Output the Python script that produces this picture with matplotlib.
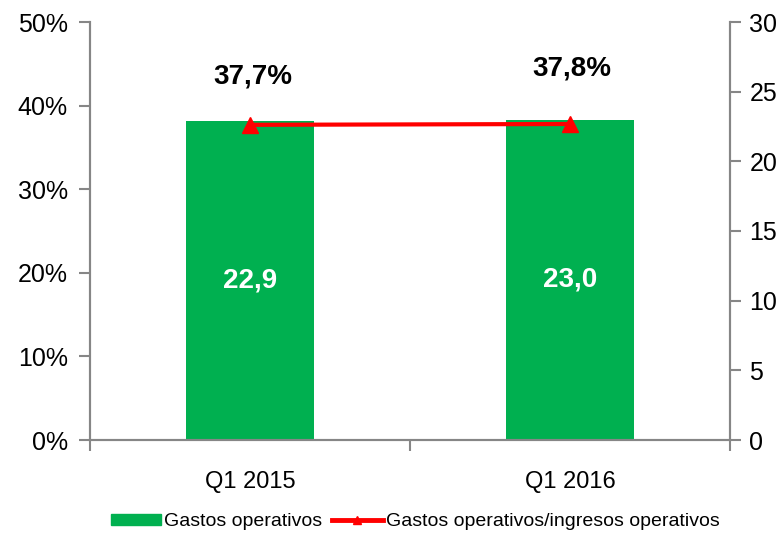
import numpy as np
import matplotlib
matplotlib.use("Agg")
import matplotlib.pyplot as plt
from matplotlib.ticker import PercentFormatter, FixedLocator

plt.rcParams["font.family"] = ["Liberation Sans", "DejaVu Sans"]

# ---- datos ----
periodos = ["Q1 2015", "Q1 2016"]
gastos = [22.9, 23.0]                 # eje derecho
ratio = [37.7, 37.8]                  # % eje izquierdo
etiquetas_gastos = ["22,9", "23,0"]
etiquetas_ratio = ["37,7%", "37,8%"]

VERDE = "#00B050"
ROJO = "#FF0000"
GRIS = "#868686"

fig = plt.figure(figsize=(7.81, 5.38), dpi=100)
ax = fig.add_axes([90/781, 1-440/538, 640/781, 418/538])
ax2 = ax.twinx()

x = np.arange(len(periodos))

# barras en el eje derecho
ax2.bar(x, gastos, width=0.4, color=VERDE, zorder=1)
for xi, v, t in zip(x, gastos, etiquetas_gastos):
    ax2.text(xi, v/2, t, ha="center", va="center", color="white",
             fontsize=20, fontweight="bold")

# línea en el eje izquierdo (dibujada encima)
ax.set_zorder(ax2.get_zorder() + 1)
ax.patch.set_visible(False)
ax.plot(x, ratio, "-", color=ROJO, lw=3, marker="^", ms=12, mec=ROJO,
        mfc=ROJO, solid_capstyle="butt", zorder=3)
for xi, v, t, off in zip(x, ratio, etiquetas_ratio, [35, 40]):
    ax.annotate(t, (xi, v), xytext=(2 if xi == 0 else 1, off),
                textcoords="offset points", ha="center", va="center",
                fontsize=20, fontweight="bold")

# ejes
ax.set_xlim(-0.5, 1.5)
ax.set_ylim(0, 50)
ax2.set_ylim(0, 30)
ax.yaxis.set_major_locator(FixedLocator(np.arange(0, 51, 10)))
ax.yaxis.set_major_formatter(PercentFormatter(decimals=0))
ax2.yaxis.set_major_locator(FixedLocator(np.arange(0, 31, 5)))

ax.set_xticks(x)
ax.set_xticklabels(periodos, fontsize=17)
ax.set_xticks([-0.5, 0.5, 1.5], minor=True)
ax.tick_params(axis="x", which="major", length=0, pad=22)
ax.tick_params(axis="x", which="minor", length=8, width=1.5, color=GRIS,
               direction="out")
ax.tick_params(axis="y", length=8, width=1.5, color=GRIS, labelsize=18, pad=8)
ax2.tick_params(axis="y", length=8, width=1.5, color=GRIS, labelsize=18, pad=6)

for a in (ax, ax2):
    a.spines["top"].set_visible(False)
    for s in ("left", "right", "bottom"):
        a.spines[s].set_color(GRIS)
        a.spines[s].set_linewidth(1.5)

# leyenda
h1 = plt.Rectangle((0, 0), 1, 1, color=VERDE)
h2, = ax.plot([], [], "-", color=ROJO, lw=3.5, marker="^", ms=6)
fig.legend([h1, h2], ["Gastos operativos", "Gastos operativos/ingresos operativos"],
           loc="center", bbox_to_anchor=(415/781, 1-522/538), ncol=2,
           frameon=False, fontsize=14, handlelength=2.6, handleheight=0.5,
           handletextpad=0.15, columnspacing=0.5)

fig.savefig("out.png", dpi=100)
